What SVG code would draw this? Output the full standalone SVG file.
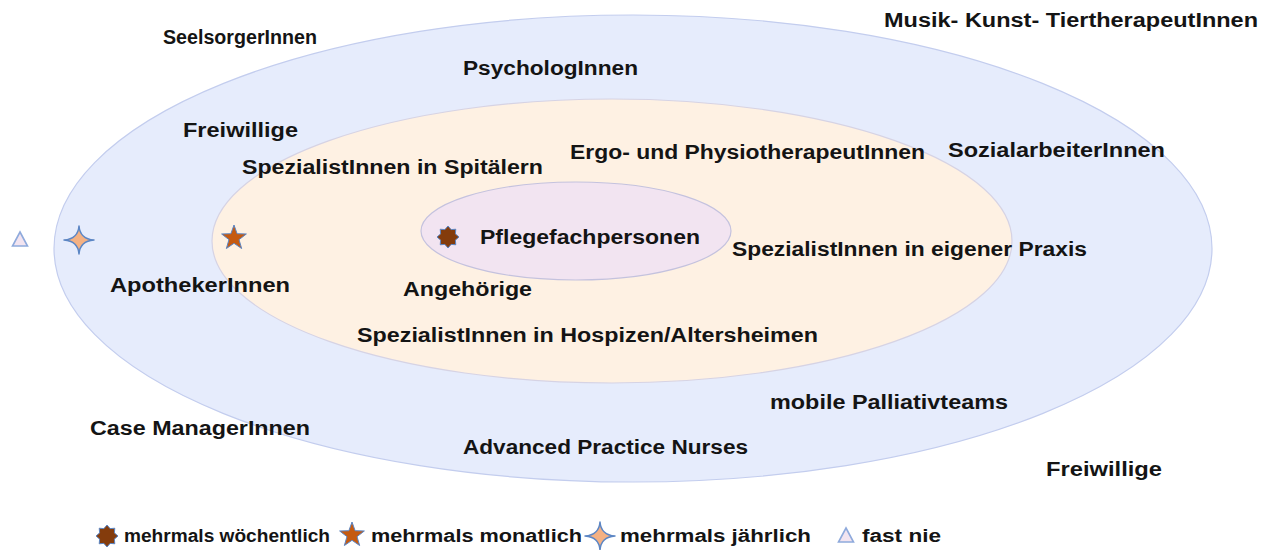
<svg xmlns="http://www.w3.org/2000/svg" xmlns:xlink="http://www.w3.org/1999/xlink" width="1273" height="550" viewBox="0 0 1273 550">
<style>
  .lbl { font-family: "Liberation Sans", Arial, sans-serif; font-weight: bold; font-size: 20px; fill: #141414; }
  .leg { font-family: "Liberation Sans", Arial, sans-serif; font-weight: bold; font-size: 17.5px; fill: #141414; }
  .ring { stroke-width: 1.2; }
</style>
<defs>
  <polygon id="star8" points="0,-11 3.1,-7.4 7.78,-7.78 7.4,-3.1 11,0 7.4,3.1 7.78,7.78 3.1,7.4 0,11 -3.1,7.4 -7.78,7.78 -7.4,3.1 -11,0 -7.4,-3.1 -7.78,-7.78 -3.1,-7.4" fill="#843C0C" stroke="#5B86C5" stroke-width="1"/>
  <polygon id="star5" points="0,-13 3.12,-4.29 12.36,-4.02 5.04,1.64 7.64,10.52 0,5.3 -7.64,10.52 -5.04,1.64 -12.36,-4.02 -3.12,-4.29" fill="#C55A11" stroke="#5B86C5" stroke-width="1"/>
  <path id="star4" d="M0,-14 Q1,-1 15,0 Q1,1 0,14 Q-1,1 -15,0 Q-1,-1 0,-14 Z" fill="#F4B183" stroke="#5B86C5" stroke-width="1.5" stroke-linejoin="round"/>
  <polygon id="tri" points="0,-8 7.5,6 -7.5,6" fill="#F2E4F0" stroke="#8FAADC" stroke-width="1.6"/>
</defs>

<g id="ring-outer">
  <ellipse class="ring" cx="633" cy="248.5" rx="579" ry="233.5" fill="#E6ECFC" stroke="#C3CDEE"/>
</g>
<g id="ring-middle">
  <ellipse class="ring" cx="612" cy="241" rx="400" ry="142" fill="#FEF1E3" stroke="#D6D3E4"/>
</g>
<g id="ring-inner">
  <ellipse class="ring" cx="576" cy="231" rx="155" ry="49" fill="#F2E4F1" stroke="#C4C2DE"/>
</g>

<g id="connectors"></g>

<g id="symbols">
  <use xlink:href="#tri" x="20" y="240"/>
  <use xlink:href="#star4" x="79" y="240"/>
  <use xlink:href="#star5" x="234" y="238"/>
  <use xlink:href="#star8" x="448" y="237"/>
</g>

<g id="labels">
  <g id="n-musik"><text class="lbl" x="884" y="27" textLength="374" lengthAdjust="spacingAndGlyphs">Musik- Kunst- TiertherapeutInnen</text></g>
  <g id="n-seelsorger"><text class="lbl" x="163" y="44" textLength="154" lengthAdjust="spacingAndGlyphs">SeelsorgerInnen</text></g>
  <g id="n-psycho"><text class="lbl" x="463" y="75" textLength="175" lengthAdjust="spacingAndGlyphs">PsychologInnen</text></g>
  <g id="n-freiwillige1"><text class="lbl" x="183" y="137" textLength="115" lengthAdjust="spacingAndGlyphs">Freiwillige</text></g>
  <g id="n-ergo"><text class="lbl" x="570" y="159" textLength="355" lengthAdjust="spacingAndGlyphs">Ergo- und PhysiotherapeutInnen</text></g>
  <g id="n-sozial"><text class="lbl" x="948" y="157" textLength="217" lengthAdjust="spacingAndGlyphs">SozialarbeiterInnen</text></g>
  <g id="n-spital"><text class="lbl" x="242" y="174" textLength="301" lengthAdjust="spacingAndGlyphs">SpezialistInnen in Spitälern</text></g>
  <g id="n-pflege"><text class="lbl" x="480" y="244" textLength="220" lengthAdjust="spacingAndGlyphs">Pflegefachpersonen</text></g>
  <g id="n-praxis"><text class="lbl" x="732" y="256" textLength="355" lengthAdjust="spacingAndGlyphs">SpezialistInnen in eigener Praxis</text></g>
  <g id="n-apotheker"><text class="lbl" x="110" y="292" textLength="180" lengthAdjust="spacingAndGlyphs">ApothekerInnen</text></g>
  <g id="n-angehoerige"><text class="lbl" x="403" y="296" textLength="129" lengthAdjust="spacingAndGlyphs">Angehörige</text></g>
  <g id="n-hospiz"><text class="lbl" x="357" y="342" textLength="461" lengthAdjust="spacingAndGlyphs">SpezialistInnen in Hospizen/Altersheimen</text></g>
  <g id="n-mobile"><text class="lbl" x="770" y="409" textLength="238" lengthAdjust="spacingAndGlyphs">mobile Palliativteams</text></g>
  <g id="n-case"><text class="lbl" x="90" y="435" textLength="220" lengthAdjust="spacingAndGlyphs">Case ManagerInnen</text></g>
  <g id="n-apn"><text class="lbl" x="463" y="454" textLength="285" lengthAdjust="spacingAndGlyphs">Advanced Practice Nurses</text></g>
  <g id="n-freiwillige2"><text class="lbl" x="1046" y="476" textLength="116" lengthAdjust="spacingAndGlyphs">Freiwillige</text></g>
</g>

<g id="legend">
  <use xlink:href="#star8" x="107" y="536"/>
  <text class="leg" x="124" y="542" textLength="206" lengthAdjust="spacingAndGlyphs">mehrmals wöchentlich</text>
  <use xlink:href="#star5" x="352" y="535"/>
  <text class="leg" x="371" y="542" textLength="211" lengthAdjust="spacingAndGlyphs">mehrmals monatlich</text>
  <use xlink:href="#star4" x="600" y="536"/>
  <text class="leg" x="620" y="542" textLength="191" lengthAdjust="spacingAndGlyphs">mehrmals jährlich</text>
  <use xlink:href="#tri" x="846" y="536"/>
  <text class="leg" x="862" y="542" textLength="79" lengthAdjust="spacingAndGlyphs">fast nie</text>
</g>
</svg>
